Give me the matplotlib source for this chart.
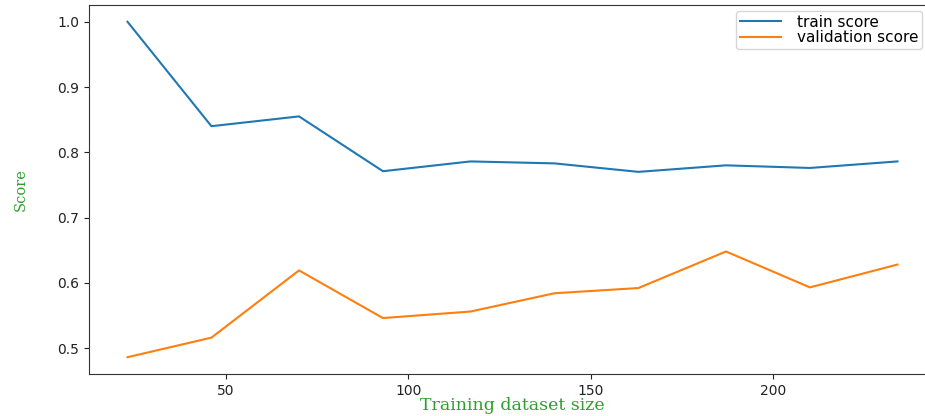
import numpy as np
import matplotlib
matplotlib.use("Agg")
import matplotlib.pyplot as plt

# learning curve values
train_sizes = [23, 46, 70, 93, 117, 140, 163, 187, 210, 234]
train_score = [1.000, 0.840, 0.855, 0.771, 0.786, 0.783, 0.770, 0.780, 0.776, 0.786]
validation_score = [0.486, 0.516, 0.619, 0.546, 0.556, 0.584, 0.592, 0.648, 0.593, 0.628]

fig = plt.figure(figsize=(9.25, 4.16), dpi=100)
# axes right edge falls outside the picture, as in the reference crop
ax = fig.add_axes([0.0962, 0.101, 0.9157, 0.887])

ax.plot(train_sizes, train_score, label="train score", color="#1f77b4", linewidth=1.5)
ax.plot(train_sizes, validation_score, label="validation score", color="#ff7f0e", linewidth=1.5)

ax.set_xticks([50, 100, 150, 200])
ax.set_yticks([0.5, 0.6, 0.7, 0.8, 0.9, 1.0])
ax.tick_params(labelsize=10, colors="#222222")

ax.set_xlabel("Training dataset size", family="DejaVu Serif", fontsize=12.5, color="#2ca02c")
ax.set_ylabel("Score", family="DejaVu Serif", fontsize=10.5, color="#2ca02c")
ax.xaxis.set_label_coords(0.5, -0.063)
ax.yaxis.set_label_coords(-0.072, 0.5)

ax.legend(loc="upper right", bbox_to_anchor=(0.9835, 0.984), borderaxespad=0,
          fontsize=11, handlelength=2.7, handletextpad=1.0,
          labelspacing=0.05, borderpad=0.25)

for s in ax.spines.values():
    s.set_color("#333333")

fig.savefig("out.png", dpi=100)
